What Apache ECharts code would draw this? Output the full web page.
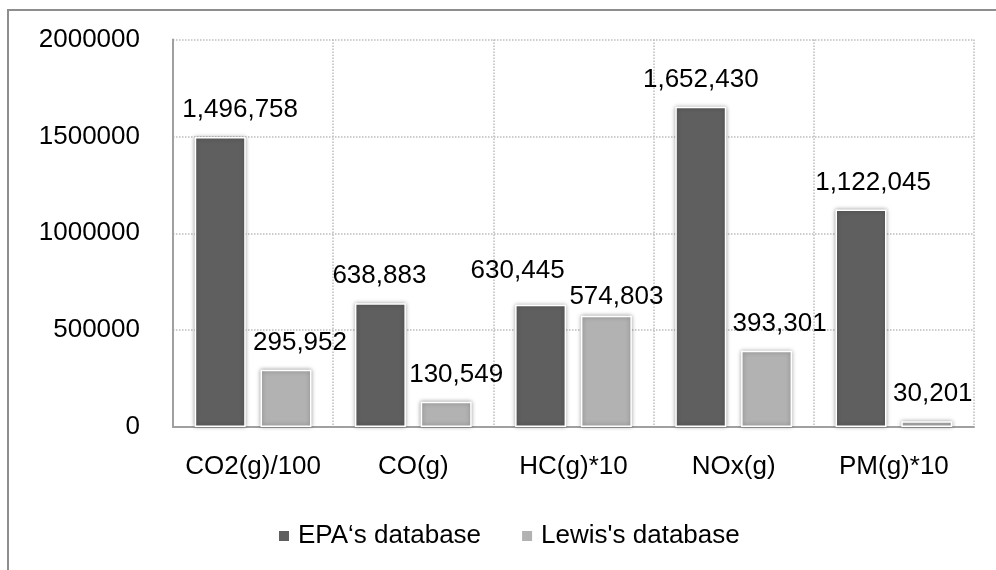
<!DOCTYPE html>
<html>
<head>
<meta charset="utf-8">
<script src="https://cdn.jsdelivr.net/npm/echarts@6/dist/echarts.min.js"></script>
<style>
  html, body { margin: 0; padding: 0; background: #fff; }
  #wrap { position: relative; width: 996px; height: 570px; overflow: hidden; }
  #chart { position: absolute; left: 0; top: 0; width: 996px; height: 570px; }
  #frame { position: absolute; left: 7px; top: 9px; width: 1000px; height: 600px;
           border: 2px solid #8e8e8e; pointer-events: none; }
</style>
</head>
<body>
<div id="wrap"><div id="chart"></div><div id="frame"></div></div>
<script>
// ---- data ----
const categories = ['CO2(g)/100', 'CO(g)', 'HC(g)*10', 'NOx(g)', 'PM(g)*10'];
const seriesNames = ['EPA\u2018s database', "Lewis's database"];
const epaValues = [1496758, 638883, 630445, 1652430, 1122045];
const lewisValues = [295952, 130549, 574803, 393301, 30201];
const yTicks = { min: 0, max: 2000000, interval: 500000 };

// label nudges (layout only)
const epaLabelNudge = [[20, 0], [-1, 0], [-23, -7], [0, 0], [12, 0]];
const lewisLabelNudge = [[14, 0], [10, 0], [10, 8], [13, 0], [6, 0]];

const FONT = '"Liberation Sans", Arial, sans-serif';
const fmt = v => v.toLocaleString('en-US');

function buildData(values, nudges) {
  return values.map((v, i) => ({ value: v, label: { offset: nudges[i] } }));
}

const barStyle = (color) => ({
  color: color,
  borderColor: '#ffffff',
  borderWidth: 1.5,
  shadowBlur: 4,
  shadowColor: 'rgba(0,0,0,0.35)',
  shadowOffsetX: 0,
  shadowOffsetY: 0
});

const labelStyle = {
  show: true,
  position: 'top',
  distance: 14,
  color: '#000',
  fontSize: 26,
  fontFamily: FONT,
  formatter: p => fmt(p.value)
};

const chart = echarts.init(document.getElementById('chart'), null, { renderer: 'canvas' });
chart.setOption({
  animation: false,
  backgroundColor: '#fff',
  grid: { left: 173, right: 22, top: 39.5, bottom: 143, containLabel: false },
  legend: {
    left: 277, top: 523, padding: 0,
    itemWidth: 12, itemHeight: 12, itemGap: 39,
    icon: 'rect',
    textStyle: { fontSize: 26, fontFamily: FONT, color: '#000', padding: [0, 0, 0, 3] },
    data: seriesNames
  },
  xAxis: {
    type: 'category',
    data: categories,
    boundaryGap: true,
    axisLine: { show: true, lineStyle: { color: '#a0a0a0', width: 2 } },
    axisTick: { show: false },
    axisLabel: { margin: 27, fontSize: 26, fontFamily: FONT, color: '#000', interval: 0 },
    splitLine: { show: true, interval: 0, lineStyle: { type: 'dotted', color: '#bdbdbd', width: 1.5 } }
  },
  yAxis: {
    type: 'value',
    min: yTicks.min, max: yTicks.max, interval: yTicks.interval,
    axisLine: { show: true, lineStyle: { color: '#a0a0a0', width: 2 } },
    axisTick: { show: false },
    axisLabel: { margin: 33, fontSize: 26, fontFamily: FONT, color: '#000', formatter: v => String(v) },
    splitLine: { show: true, lineStyle: { type: 'dotted', color: '#bdbdbd', width: 1.5 } }
  },
  series: [
    {
      name: seriesNames[0], type: 'bar', barWidth: 51, barGap: '29%',
      itemStyle: barStyle('#5f5f5f'),
      label: labelStyle,
      data: buildData(epaValues, epaLabelNudge)
    },
    {
      name: seriesNames[1], type: 'bar', barWidth: 51, barGap: '29%',
      itemStyle: barStyle('#b2b2b2'),
      label: labelStyle,
      data: buildData(lewisValues, lewisLabelNudge)
    }
  ]
});
</script>
</body>
</html>
